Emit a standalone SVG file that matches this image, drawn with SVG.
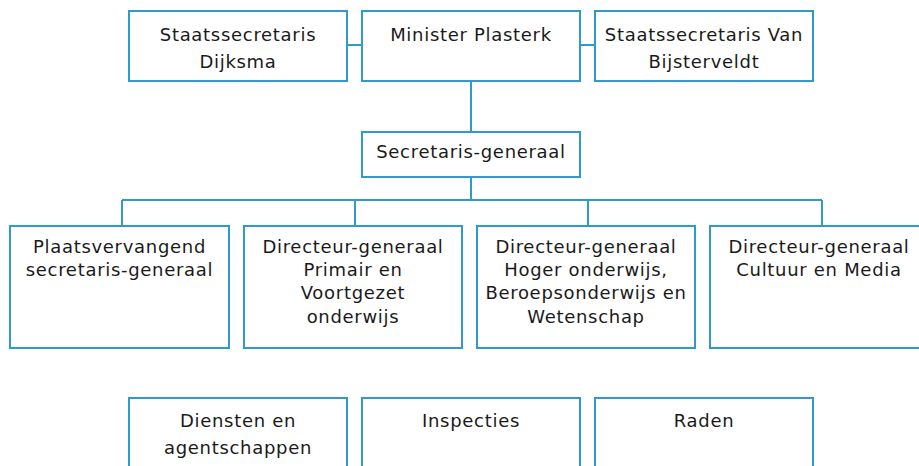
<svg xmlns="http://www.w3.org/2000/svg" width="919" height="466" viewBox="0 0 919 466">
<style>
.box{fill:#fff;stroke:#2E9BCB;stroke-width:2}
.con{fill:none;stroke:#2E9BCB;stroke-width:2}
text{font-family:"DejaVu Sans",Verdana,sans-serif;font-size:18px;fill:#1a1a1a;text-anchor:middle;letter-spacing:0.7px}
</style>
<rect width="919" height="466" fill="#fff"/>
<g id="connectors">
<path class="con" d="M347 45H362M580 45H595M471 81V132M471 177V200M122 200H822M122 200V226M355 200V226M588 200V226M822 200V226"/>
</g>
<g id="staatssecretaris-dijksma">
<rect class="box" x="129" y="11" width="218" height="70"/>
<text x="238" y="40.5">Staatssecretaris</text>
<text x="238" y="67.5">Dijksma</text>
</g>
<g id="minister-plasterk">
<rect class="box" x="362" y="11" width="218" height="70"/>
<text x="471" y="40.5">Minister Plasterk</text>
</g>
<g id="staatssecretaris-van-bijsterveldt">
<rect class="box" x="595" y="11" width="218" height="70"/>
<text x="704" y="40.5">Staatssecretaris Van</text>
<text x="704" y="67.5">Bijsterveldt</text>
</g>
<g id="secretaris-generaal">
<rect class="box" x="362" y="132" width="218" height="45"/>
<text x="471" y="157.5">Secretaris-generaal</text>
</g>
<g id="plaatsvervangend-sg">
<rect class="box" x="10" y="226" width="219" height="122"/>
<text x="119.5" y="252.7">Plaatsvervangend</text>
<text x="119.5" y="276">secretaris-generaal</text>
</g>
<g id="dg-primair-voortgezet">
<rect class="box" x="244" y="226" width="218" height="122"/>
<text x="353" y="252.7">Directeur-generaal</text>
<text x="353" y="276">Primair en</text>
<text x="353" y="299.3">Voortgezet</text>
<text x="353" y="322.6">onderwijs</text>
</g>
<g id="dg-hoger-onderwijs">
<rect class="box" x="477" y="226" width="218" height="122"/>
<text x="586" y="252.7">Directeur-generaal</text>
<text x="586" y="276">Hoger onderwijs,</text>
<text x="586" y="299.3">Beroepsonderwijs en</text>
<text x="586" y="322.6">Wetenschap</text>
</g>
<g id="dg-cultuur-media">
<rect class="box" x="710" y="226" width="218" height="122"/>
<text x="819" y="252.7">Directeur-generaal</text>
<text x="819" y="276">Cultuur en Media</text>
</g>
<g id="diensten-agentschappen">
<rect class="box" x="129" y="398" width="218" height="100"/>
<text x="238" y="426.7">Diensten en</text>
<text x="238" y="454">agentschappen</text>
</g>
<g id="inspecties">
<rect class="box" x="362" y="398" width="218" height="100"/>
<text x="471" y="426.7">Inspecties</text>
</g>
<g id="raden">
<rect class="box" x="595" y="398" width="218" height="100"/>
<text x="704" y="426.7">Raden</text>
</g>
</svg>
